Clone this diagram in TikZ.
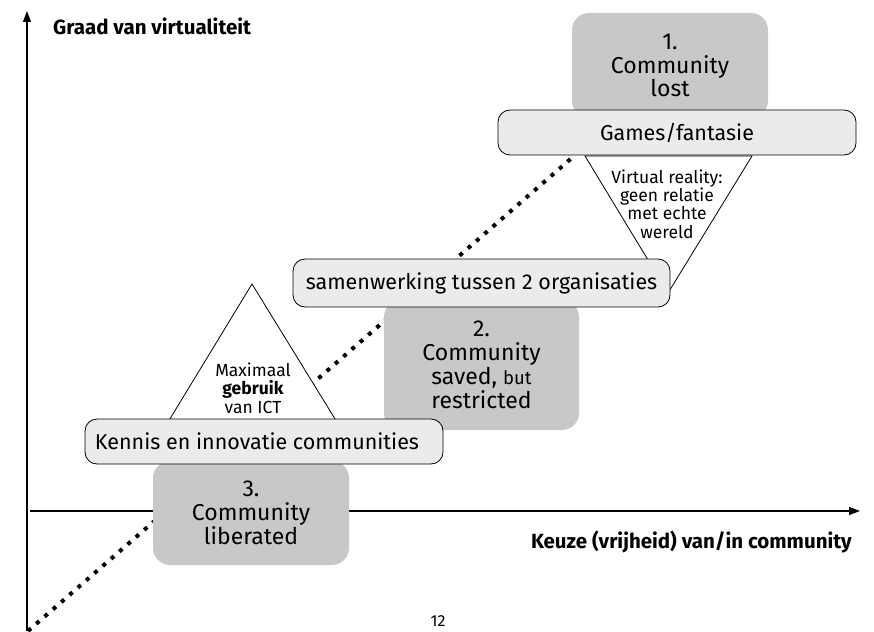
\documentclass[tikz,border=0pt]{standalone}
\usepackage{fontspec}
\setmainfont{Fira Sans}
\usetikzlibrary{arrows.meta}
\definecolor{boxgray}{HTML}{C8C8CA}
\definecolor{boxlight}{HTML}{EBEBEB}
\tikzset{
  axisline/.style={line width=1.1pt,-{Triangle[length=11pt,width=8pt]}},
  dotline/.style={line width=4pt,dash pattern=on 4pt off 7pt},
  graybox/.style={fill=boxgray,rounded corners=17pt,inner sep=0pt,align=center,font=\fontsize{23}{23.8}\selectfont},
  lightbox/.style={draw=black,line width=0.8pt,fill=boxlight,rounded corners=12pt,inner sep=0pt,font=\fontsize{21.5}{24}\selectfont},
  tri/.style={draw=black,line width=0.8pt,fill=white},
  tritext/.style={align=center,font=\fontsize{17.5}{18.3}\selectfont,inner sep=0pt},
  axislabel/.style={font=\bfseries\fontsize{20.5}{22}\selectfont,inner sep=0pt}
}
\begin{document}
\begin{tikzpicture}[x=1pt,y=-1pt]
\useasboundingbox (0,0) rectangle (874,631);
% axes
\coordinate (o) at (27,631);
\coordinate (ytop) at (27,11);
\coordinate (xl) at (30,511);
\coordinate (xr) at (860,511);
\draw[axisline] (o) -- (ytop);
\draw[axisline] (xl) -- (xr);
\node[axislabel,anchor=west] (ylab) at (53,26) {Graad van virtualiteit};
\node[axislabel,anchor=east] (xlab) at (852,542) {Keuze (vrijheid) van/in community};
% dotted trend line
\coordinate (d0) at (28,631);
\coordinate (d1) at (574,156);
\draw[dotline] (d0) -- (d1);
% triangles
\coordinate (ua) at (252,284);
\coordinate (ul) at (165,427);
\coordinate (ur) at (340,427);
\draw[tri] (ua) -- (ul) -- (ur) -- cycle;
\coordinate (dl) at (585,156);
\coordinate (dr) at (752,156);
\coordinate (da) at (668,293);
\draw[tri] (dl) -- (dr) -- (da) -- cycle;
% gray boxes
\node[graybox,minimum width=196pt,minimum height=105pt] (g1) at (670,65.5) {1.\\Community\\lost};
\node[graybox,minimum width=195pt,minimum height=130pt] (g2) at (481.5,365) {2.\\Community\\saved, {\fontsize{18.5}{20}\selectfont but}\\restricted};
\node[graybox,minimum width=196pt,minimum height=104pt] (g3) at (251,513) {3.\\Community\\liberated};
% light boxes
\node[lightbox,minimum width=358pt,minimum height=45pt] (b1) at (677,132.5) {Games/fantasie};
\node[lightbox,minimum width=377pt,minimum height=48pt] (b2) at (481.5,283) {samenwerking tussen 2 organisaties};
\node[lightbox,minimum width=358pt,minimum height=45pt] (b3) at (264,441.5) {Kennis en innovatie communities\hspace*{14pt}};
% triangle texts
\node[tritext] (t1) at (667,204) {Virtual reality:\\geen relatie\\met echte\\wereld};
\node[tritext] (t2) at (253,388) {Maximaal\\\textbf{gebruik}\\van ICT};
% page number
\node[font=\fontsize{16}{18}\selectfont,anchor=south,inner sep=0pt] (pn) at (438,627) {12};
\end{tikzpicture}
\end{document}
